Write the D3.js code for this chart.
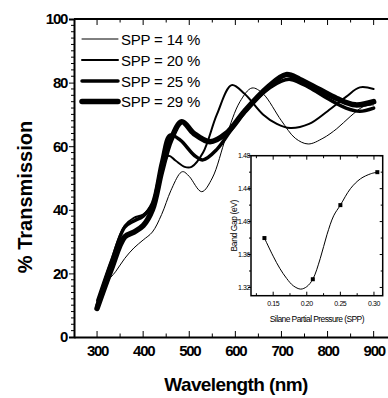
<!DOCTYPE html>
<html><head><meta charset="utf-8">
<script src="https://cdn.jsdelivr.net/npm/d3@7"></script>
<style>
html,body{margin:0;padding:0;background:#fff;}
svg{display:block;font-family:"Liberation Sans",Arial,sans-serif;}
</style></head>
<body>
<svg id="chart" width="388" height="398"></svg>
<script>
// ---- data ----
const seriesNames = ["SPP = 14 %", "SPP = 20 %", "SPP = 25 %", "SPP = 29 %"];
const seriesWidths = [1, 2, 3.5, 5.5];
const wl14 = [300,320,340,360,380,400,420,440,460,480,487,500,527,550,580,610,636,660,700,730,758,790,820,849,877,900];
const tr14 = [11,17,20.5,24.7,28,30.5,33,38.5,46,51.5,52,50.5,45.7,50,63,74,78.3,76.5,68,62.5,60.7,62.5,65.5,69.3,72.4,73];
const wl20 = [300,330,360,380,400,420,440,455,470,490,505,530,560,592,620,660,690,719,760,800,840,870,900];
const tr20 = [11.5,24,35,37.5,38.5,42,51,57,55.5,53.5,53.5,58,70,79.2,76.5,70,67,65.7,67,71,75.5,78.5,78];
const wl25 = [300,330,360,380,400,420,440,458,480,512,530,560,600,650,700,720,760,800,840,870,900];
const tr25 = [10,23,34.5,36.5,38,42,55,63.5,62,57,55.7,59,67,75.5,80.5,81,78.5,75,72,71,72];
const wl29 = [300,330,360,380,400,420,440,460,484,510,545,580,620,670,710,740,780,820,860,900];
const tr29 = [9,21,31.5,33,35,40,52,62,67.7,64,61.4,64,71,78.5,82.5,81,78,75,73,74];
const xTicks = [300,400,500,600,700,800,900];
const yTicks = [0,20,40,60,80,100];

// inset
const sppX = [0.137, 0.209, 0.25, 0.305];
const gapY = [1.38, 1.33, 1.42, 1.46];
const fitX = [0.137,0.15,0.16,0.17,0.18,0.191,0.20,0.209,0.22,0.23,0.24,0.25,0.265,0.28,0.295,0.305];
const fitY = [1.38,1.358,1.343,1.331,1.322,1.318,1.321,1.33,1.355,1.384,1.407,1.42,1.44,1.452,1.458,1.46];
const insetXTicks = [0.15,0.20,0.25,0.30];
const insetYTicks = [1.32,1.36,1.40,1.44,1.48];

const svg = d3.select("#chart");
const L = 74, T = 19, B = 337, R = 396.7;
const x = d3.scaleLinear().domain([250, 950]).range([L, R]);
const y = d3.scaleLinear().domain([0, 100]).range([B, T]);

svg.append("line").attr("x1",L).attr("x2",R).attr("y1",T).attr("y2",T).attr("stroke","#000").attr("stroke-width",2);

const xMinor = d3.range(300, 951, 50);
const gx = svg.append("g").attr("transform",`translate(0,${B})`)
  .call(d3.axisBottom(x).tickValues(xTicks).tickSize(0).tickPadding(8).tickFormat(d3.format("d")));
gx.select(".domain").attr("stroke-width",2);
gx.selectAll("text").attr("font-size",15).attr("font-weight","bold").attr("letter-spacing","-1.3").attr("fill","#000");
svg.append("g").selectAll("line").data(xMinor).join("line")
  .attr("x1",d=>x(d)).attr("x2",d=>x(d))
  .attr("y1",B).attr("y2",d=>B-(d%100===0?6:3.5)).attr("stroke","#000").attr("stroke-width",1);
svg.append("g").selectAll("line").data(xMinor).join("line")
  .attr("x1",d=>x(d)).attr("x2",d=>x(d))
  .attr("y1",T).attr("y2",d=>T+(d%100===0?6:3.5)).attr("stroke","#000").attr("stroke-width",1);

const gy = svg.append("g").attr("transform",`translate(${L},0)`)
  .call(d3.axisLeft(y).tickValues(yTicks).tickSize(5).tickPadding(2).tickFormat(d3.format("d")));
gy.select(".domain").attr("stroke-width",2);
gy.selectAll("text").attr("font-size",15).attr("font-weight","bold").attr("letter-spacing","-1.3").attr("fill","#000");
svg.append("g").selectAll("line").data(d3.range(0,101,2).filter(d=>d%20!==0)).join("line")
  .attr("x1",L).attr("x2",L-3).attr("y1",d=>y(d)).attr("y2",d=>y(d)).attr("stroke","#000").attr("stroke-width",1);

const line = d3.line().x(d=>x(d[0])).y(d=>y(d[1])).curve(d3.curveCatmullRom.alpha(0.5));
const series = [
  d3.zip(wl14, tr14), d3.zip(wl20, tr20), d3.zip(wl25, tr25), d3.zip(wl29, tr29)
];
series.forEach((s,i)=>{
  svg.append("path").attr("d", line(s)).attr("fill","none").attr("stroke","#000")
    .attr("stroke-width", seriesWidths[i]).attr("stroke-linejoin","round").attr("stroke-linecap","round");
});

const legY = [39, 60, 81, 101.5];
seriesNames.forEach((n,i)=>{
  svg.append("line").attr("x1",82).attr("x2",118).attr("y1",legY[i]).attr("y2",legY[i])
    .attr("stroke","#000").attr("stroke-width",seriesWidths[i]).attr("stroke-linecap","round");
  svg.append("text").attr("x",121).attr("y",legY[i]+5.5).attr("font-size",15).attr("letter-spacing","-0.2").text(n);
});

svg.append("text").attr("x",236).attr("y",391).attr("text-anchor","middle").attr("font-size",19)
  .attr("font-weight","bold").attr("letter-spacing","-0.6").text("Wavelength (nm)");
svg.append("text").attr("transform","translate(32,197) rotate(-90)").attr("text-anchor","middle")
  .attr("font-size",20).attr("font-weight","bold").text("% Transmission");

// ---- inset ----
const iL = 251, iR = 382.7, iT = 155.7, iB = 295.7;
const ix = d3.scaleLinear().domain([0.117, 0.313]).range([iL, iR]);
const iy = d3.scaleLinear().domain([1.31, 1.48]).range([iB, iT]);
const inset = svg.append("g");
inset.append("rect").attr("x",iL).attr("y",iT).attr("width",iR-iL).attr("height",iB-iT)
  .attr("fill","#fff").attr("stroke","#000").attr("stroke-width",1.5);
const ixMinor = d3.range(0.125, 0.311, 0.025);
inset.selectAll(".ixt").data(ixMinor).join("line")
  .attr("x1",d=>ix(d)).attr("x2",d=>ix(d)).attr("y1",iB).attr("y2",(d,i)=>iB-(i%2===1?4:2.5)).attr("stroke","#000");
inset.selectAll(".ixt2").data(ixMinor).join("line")
  .attr("x1",d=>ix(d)).attr("x2",d=>ix(d)).attr("y1",iT).attr("y2",(d,i)=>iT+(i%2===1?4:2.5)).attr("stroke","#000");
const iyMinor = d3.range(1.32, 1.481, 0.02);
inset.selectAll(".iyt").data(iyMinor).join("line")
  .attr("x1",iL).attr("x2",(d,i)=>iL-(i%2===0?3:2)).attr("y1",d=>iy(d)).attr("y2",d=>iy(d)).attr("stroke","#000");
inset.selectAll(".iyt2").data(iyMinor).join("line")
  .attr("x1",iR).attr("x2",(d,i)=>iR-(i%2===0?3:2)).attr("y1",d=>iy(d)).attr("y2",d=>iy(d)).attr("stroke","#000");
inset.selectAll(".ixl").data(insetXTicks).join("text")
  .attr("x",d=>ix(d)).attr("y",iB+10).attr("text-anchor","middle").attr("font-size",7).attr("letter-spacing","-0.4")
  .text(d3.format(".2f"));
inset.selectAll(".iyl").data(insetYTicks).join("text")
  .attr("x",iL-1).attr("y",d=>iy(d)+2.5).attr("text-anchor","end").attr("font-size",7).attr("letter-spacing","-0.4")
  .text(d3.format(".2f"));
inset.append("text").attr("x",(iL+iR)/2).attr("y",322).attr("text-anchor","middle").attr("font-size",8.5)
  .attr("letter-spacing","-0.6").text("Silane Partial Pressure (SPP)");
inset.append("text").attr("transform",`translate(237,${(iT+iB)/2}) rotate(-90)`).attr("text-anchor","middle")
  .attr("font-size",8.5).attr("letter-spacing","-0.4").text("Band Gap (eV)");
inset.append("path").attr("d", d3.line().x(d=>ix(d[0])).y(d=>iy(d[1])).curve(d3.curveCatmullRom)(d3.zip(fitX,fitY)))
  .attr("fill","none").attr("stroke","#000").attr("stroke-width",1);
inset.selectAll(".pt").data(d3.zip(sppX,gapY)).join("rect")
  .attr("x",d=>ix(d[0])-2).attr("y",d=>iy(d[1])-2).attr("width",4).attr("height",4).attr("fill","#000");
</script>
</body></html>
